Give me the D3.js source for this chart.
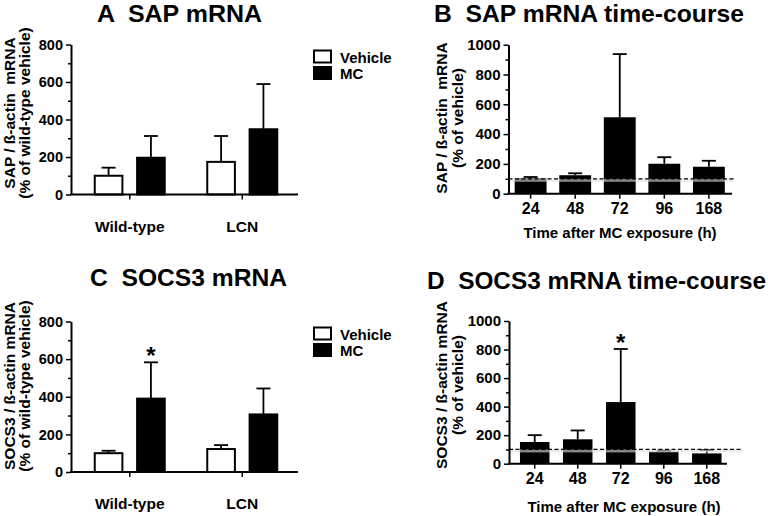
<!DOCTYPE html>
<html>
<head>
<meta charset="utf-8">
<script src="https://cdn.jsdelivr.net/npm/d3@7"></script>
<style>
  html, body { margin: 0; padding: 0; background: #fff; }
  svg { display: block; }
  text { font-family: Arial, "Liberation Sans", Helvetica, sans-serif; font-weight: bold; fill: #000; }
</style>
</head>
<body>
<svg id="chart" width="768" height="516"></svg>
<script>
// ---------- data ----------
const groups = ["Wild-type", "LCN"];
const seriesNames = ["Vehicle", "MC"];

// Panel A: SAP mRNA (% of wild-type vehicle)
const sapVehicle = [100, 174];
const sapVehicleErr = [43, 138];
const sapMC = [196, 348];
const sapMCErr = [116, 241];

// Panel C: SOCS3 mRNA (% of wild-type vehicle)
const socsVehicle = [100, 122];
const socsVehicleErr = [13, 21];
const socsMC = [390, 306];
const socsMCErr = [193, 138];
const socsStars = ["", "*", "", ""]; // WT-Vehicle, WT-MC, LCN-Vehicle, LCN-MC

// Time-course panels
const times = ["24", "48", "72", "96", "168"];
const sapTime = [102, 124, 513, 201, 181];
const sapTimeErr = [10, 13, 424, 44, 40];
const socsTime = [152, 171, 432, 84, 72];
const socsTimeErr = [48, 62, 372, 7, 24];
const socsTimeStars = ["", "", "*", "", ""];

const yTicksGroup = [0, 200, 400, 600, 800];
const yMinorGroup = [100, 300, 500, 700];
const yTicksTime = [0, 200, 400, 600, 800, 1000];
const yMinorTime = [100, 300, 500, 700, 900];
const vehicleRef = 100;

// ---------- drawing ----------
const svg = d3.select("#chart");

function title(txt, x, y, len) {
  svg.append("text").attr("x", x).attr("y", y)
    .style("font-size", "24px").style("white-space", "pre")
    .attr("textLength", len).attr("lengthAdjust", "spacingAndGlyphs")
    .text(txt);
}

function yLabel(lines, cy, xs, size) {
  lines.forEach((l, i) => {
    svg.append("text")
      .attr("transform", `translate(${xs[i]},${cy}) rotate(-90)`)
      .attr("text-anchor", "middle")
      .style("font-size", size + "px").style("white-space", "pre")
      .text(l);
  });
}

function yAxis(g, y, major, minor, fs) {
  const ax = g.append("g").call(d3.axisLeft(y).tickValues(major).tickFormat(d3.format("d"))
    .tickSize(5).tickSizeOuter(0).tickPadding(3));
  ax.select(".domain").attr("stroke-width", 2);
  ax.selectAll(".tick line").attr("stroke-width", 1.5);
  ax.selectAll(".tick text").style("font-size", fs + "px").attr("font-family", null);
  const mi = g.append("g").call(d3.axisLeft(y).tickValues(minor).tickSize(3).tickFormat(""));
  mi.select(".domain").remove();
  mi.selectAll(".tick line").attr("stroke-width", 1.5);
}

function errBar(g, cx, yTop, yBase, half) {
  g.append("line").attr("x1", cx).attr("x2", cx).attr("y1", yBase).attr("y2", yTop)
    .attr("stroke", "#000").attr("stroke-width", 1.8);
  g.append("line").attr("x1", cx - half).attr("x2", cx + half).attr("y1", yTop).attr("y2", yTop)
    .attr("stroke", "#000").attr("stroke-width", 1.8);
}

function groupPanel(cfg) {
  const g = svg.append("g");
  const y = d3.scaleLinear().domain([0, 800]).range(cfg.yRange);
  const x0 = d3.scaleBand().domain(groups).range(cfg.xRange).padding(0);
  const x1 = d3.scaleBand().domain(seriesNames).range([-36, 36]).paddingInner(0.3).paddingOuter(0);

  const rows = [];
  groups.forEach((grp, i) => {
    rows.push({ grp, s: "Vehicle", v: cfg.veh[i], e: cfg.vehErr[i], star: cfg.stars ? cfg.stars[i * 2] : "" });
    rows.push({ grp, s: "MC", v: cfg.mc[i], e: cfg.mcErr[i], star: cfg.stars ? cfg.stars[i * 2 + 1] : "" });
  });

  rows.forEach(r => {
    const cx = x0(r.grp) + x0.bandwidth() / 2 + x1(r.s) + x1.bandwidth() / 2;
    errBar(g, cx, y(r.v + r.e), y(r.v), 7);
  });
  g.selectAll("rect.bar").data(rows).join("rect")
    .attr("class", "bar")
    .attr("x", d => x0(d.grp) + x0.bandwidth() / 2 + x1(d.s) + 1)
    .attr("width", x1.bandwidth() - 2)
    .attr("y", d => y(d.v))
    .attr("height", d => y(0) - y(d.v))
    .attr("fill", d => d.s === "Vehicle" ? "#fff" : "#000")
    .attr("stroke", "#000").attr("stroke-width", 2);
  rows.forEach(r => {
    if (r.star) {
      const cx = x0(r.grp) + x0.bandwidth() / 2 + x1(r.s) + x1.bandwidth() / 2;
      g.append("text").attr("x", cx).attr("y", y(r.v + r.e) + 2).attr("text-anchor", "middle")
        .style("font-size", "24px").text(r.star);
    }
  });

  const xa = g.append("g").attr("transform", `translate(0,${cfg.yRange[0]})`)
    .call(d3.axisBottom(x0).tickSize(5).tickSizeOuter(0).tickPadding(21));
  xa.select(".domain").remove();
  xa.selectAll(".tick line").attr("stroke-width", 1.5);
  xa.selectAll(".tick text").style("font-size", "15.5px").attr("font-family", null);
  g.append("line").attr("x1", cfg.axisX - 1).attr("x2", cfg.xEnd).attr("y1", cfg.yRange[0]).attr("y2", cfg.yRange[0])
    .attr("stroke", "#000").attr("stroke-width", 2);

  const ya = g.append("g").attr("transform", `translate(${cfg.axisX},0)`);
  yAxis(ya, y, yTicksGroup, yMinorGroup, 14.5);

  const lg = g.append("g");
  seriesNames.forEach((s, i) => {
    lg.append("rect").attr("x", 314).attr("y", cfg.legY + i * 16.5).attr("width", 17).attr("height", 12)
      .attr("fill", s === "Vehicle" ? "#fff" : "#000").attr("stroke", "#000").attr("stroke-width", 2);
    lg.append("text").attr("x", 340).attr("y", cfg.legY + 12 + i * 16.5).style("font-size", "15px").text(s);
  });
}

function timePanel(cfg) {
  const g = svg.append("g");
  const y = d3.scaleLinear().domain([0, 1000]).range(cfg.yRange);
  const x = d3.scaleBand().domain(times).range(cfg.xRange).paddingInner(cfg.pi).paddingOuter(0.15);

  times.forEach((t, i) => {
    errBar(g, x(t) + x.bandwidth() / 2, y(cfg.vals[i] + cfg.errs[i]), y(cfg.vals[i]), 7);
  });
  g.selectAll("rect.bar").data(times).join("rect")
    .attr("class", "bar")
    .attr("x", d => x(d))
    .attr("width", x.bandwidth())
    .attr("y", (d, i) => y(cfg.vals[i]))
    .attr("height", (d, i) => y(0) - y(cfg.vals[i]))
    .attr("fill", "#000");
  if (cfg.stars) {
    times.forEach((t, i) => {
      if (cfg.stars[i]) {
        g.append("text").attr("x", x(t) + x.bandwidth() / 2).attr("y", y(cfg.vals[i] + cfg.errs[i]) + 2)
          .attr("text-anchor", "middle").style("font-size", "24px").text(cfg.stars[i]);
      }
    });
  }
  g.append("rect").attr("x", cfg.axisX).attr("width", cfg.refEnd - cfg.axisX)
    .attr("y", y(vehicleRef)).attr("height", 3).attr("fill", "#ddd").attr("opacity", 0.6);
  g.append("line").attr("x1", cfg.axisX).attr("x2", cfg.refEnd)
    .attr("y1", y(vehicleRef)).attr("y2", y(vehicleRef))
    .attr("stroke", "#000").attr("stroke-width", 1.3).attr("stroke-dasharray", "4,2.5");

  const xa = g.append("g").attr("transform", `translate(0,${cfg.yRange[0]})`)
    .call(d3.axisBottom(x).tickSize(5).tickSizeOuter(0).tickPadding(4));
  xa.select(".domain").remove();
  xa.selectAll(".tick line").attr("stroke-width", 1.5);
  xa.selectAll(".tick text").style("font-size", "16px").attr("font-family", null);
  g.append("line").attr("x1", cfg.axisX - 1).attr("x2", cfg.xEnd).attr("y1", cfg.yRange[0]).attr("y2", cfg.yRange[0])
    .attr("stroke", "#000").attr("stroke-width", 2);

  const ya = g.append("g").attr("transform", `translate(${cfg.axisX},0)`);
  yAxis(ya, y, yTicksTime, yMinorTime, 15);

  g.append("text").attr("x", cfg.xTitleX).attr("y", cfg.xTitleY).attr("text-anchor", "middle")
    .style("font-size", "15px").text("Time after MC exposure (h)");
}

// Panel A
title("A  SAP mRNA", 97, 22, 165);
groupPanel({ yRange: [194.5, 44.5], xRange: [73.5, 298.5], axisX: 71, xEnd: 298,
  veh: sapVehicle, vehErr: sapVehicleErr, mc: sapMC, mcErr: sapMCErr, legY: 50.5 });
yLabel(["SAP / ß-actin  mRNA", "(% of wild-type vehicle)"], 113, [15, 30], 15.5);

// Panel B
title("B  SAP mRNA time-course", 434, 22, 310);
timePanel({ yRange: [193.7, 44.7], xRange: [508, 731.5], pi: 0.285, axisX: 508.5, xEnd: 732, refEnd: 734,
  vals: sapTime, errs: sapTimeErr, xTitleX: 620, xTitleY: 238 });
yLabel(["SAP / ß-actin  mRNA", "(% of vehicle)"], 118, [447, 463], 15.5);

// Panel C
title("C  SOCS3 mRNA", 90, 286, 197);
groupPanel({ yRange: [472, 321.5], xRange: [73.5, 298.5], axisX: 71, xEnd: 298,
  veh: socsVehicle, vehErr: socsVehicleErr, mc: socsMC, mcErr: socsMCErr, stars: socsStars, legY: 327.5 });
yLabel(["SOCS3 / ß-actin mRNA", "(% of wild-type vehicle)"], 386, [15, 30], 15.5);

// Panel D
title("D  SOCS3 mRNA time-course", 427, 289, 339);
timePanel({ yRange: [463.7, 321], xRange: [513.5, 728], pi: 0.314, axisX: 509, xEnd: 727, refEnd: 743,
  vals: socsTime, errs: socsTimeErr, stars: socsTimeStars, xTitleX: 624, xTitleY: 512 });
yLabel(["SOCS3 / ß-actin mRNA", "(% of vehicle)"], 385, [447, 463], 15.5);
</script>
</body>
</html>
